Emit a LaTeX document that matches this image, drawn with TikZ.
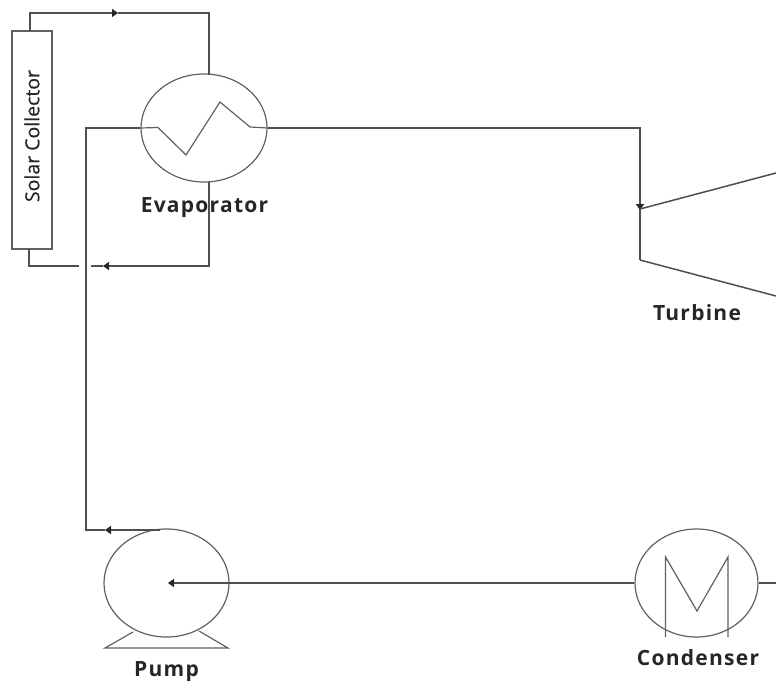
\documentclass[tikz,border=0pt]{standalone}
\usepackage{fontspec}
\setmainfont{Open Sans}
\usetikzlibrary{arrows.meta,shapes.geometric}
\definecolor{ln}{HTML}{4F4F4F}
\definecolor{thin}{HTML}{606060}
\tikzset{
  x=1pt,y=-1pt,
  pipe/.style={draw=ln,line width=1.5pt,line join=miter},
  flowtip/.style={pipe,-{Triangle[length=6pt,width=8pt,fill=black!85,color=black!85]}},
  shell/.style={draw=thin,line width=1.2pt},
  vessel/.style={shell,ellipse,inner sep=0pt,minimum width=#1,minimum height=108pt},
  lbl/.style={font=\bfseries\fontsize{21}{23}\selectfont\addfontfeatures{LetterSpace=6},text=black!85,inner sep=0pt,anchor=base},
}
\begin{document}
\begin{tikzpicture}
\useasboundingbox (0,0) rectangle (776,686);
% labels sit under the connectors
\node[lbl] (evaplabel) at (204.5,212) {Evaporator};
\node[lbl] (turbinelabel) at (697,320) {Turbine};
\node[lbl] (pumplabel) at (166.5,676) {Pump};
\node[lbl] (condlabel) at (698,665) {Condenser};
% components
\node[shell,draw,minimum width=40pt,minimum height=218pt,inner sep=0pt] (solar) at (32,140) {};
\node[font=\fontsize{19.5}{21}\selectfont\addfontfeatures{FakeBold=0.4},rotate=90,text=black!85,inner sep=0pt] (solarlabel) at (32,136) {Solar Collector};
\node[vessel=126pt] (evap) at (204,128) {};
\node[vessel=125pt] (pump) at (166.5,583) {};
\node[vessel=123pt] (cond) at (696.5,583) {};
% free points
\coordinate (tlc) at (30,13);
\coordinate (trc) at (209,13);
\coordinate (toptip) at (118,13);
\coordinate (solartop) at (30,31);
\coordinate (solarbot) at (29,249);
\coordinate (blc) at (29,266);
\coordinate (brc) at (209,266);
\coordinate (bottip) at (103,266);
\coordinate (gapr) at (91,266);
\coordinate (gapl) at (79,266);
\coordinate (evapbot) at (209,181.5);
\coordinate (evaptop) at (209,74.5);
\coordinate (tin) at (640,128);
\coordinate (ttip) at (640,210);
\coordinate (tbot) at (640,260);
\coordinate (tur) at (776,173);
\coordinate (tlr) at (776,296);
\coordinate (tup) at (640,209);
\coordinate (pumpc) at (168,583);
\coordinate (pumptop) at (160,530);
\coordinate (pumptip) at (105,530);
\coordinate (llc) at (86,530);
\coordinate (ulc) at (86,128);
\coordinate (condout) at (776,583);
% solar loop
\draw[flowtip] (solartop) -- (tlc) -- (toptip);
\draw[pipe] (toptip) -- (trc) -- (evaptop);
\draw[flowtip] (evapbot) -- (brc) -- (bottip);
\draw[pipe] (bottip) -- (gapr);
\draw[pipe] (gapl) -- (blc) -- (solarbot);
% working fluid
\draw[pipe] (evap.east) -- (tin) -- (tbot);
\draw[flowtip] (tin) -- (ttip);
\draw[pipe] (tup) -- (tur);
\draw[pipe] (tbot) -- (tlr);
\draw[flowtip] (cond.west) -- (pumpc);
\draw[pipe] (cond.east) -- (condout);
\draw[flowtip] (pumptop) -- (pumptip);
\draw[pipe] (pumptip) -- (llc) -- (ulc) -- (evap.west);
% evaporator coil
\draw[shell] (evap.west) -- (158,127.5) -- (186,155) -- (220,102) -- (250,127) -- (evap.east);
% condenser coil
\draw[shell] (665.5,637) -- (665.5,557) -- (697,611) -- (728,557) -- (728,637);
% pump base
\draw[shell] (133,632) -- (105,648) -- (228,648) -- (199,631);
\end{tikzpicture}
\end{document}
